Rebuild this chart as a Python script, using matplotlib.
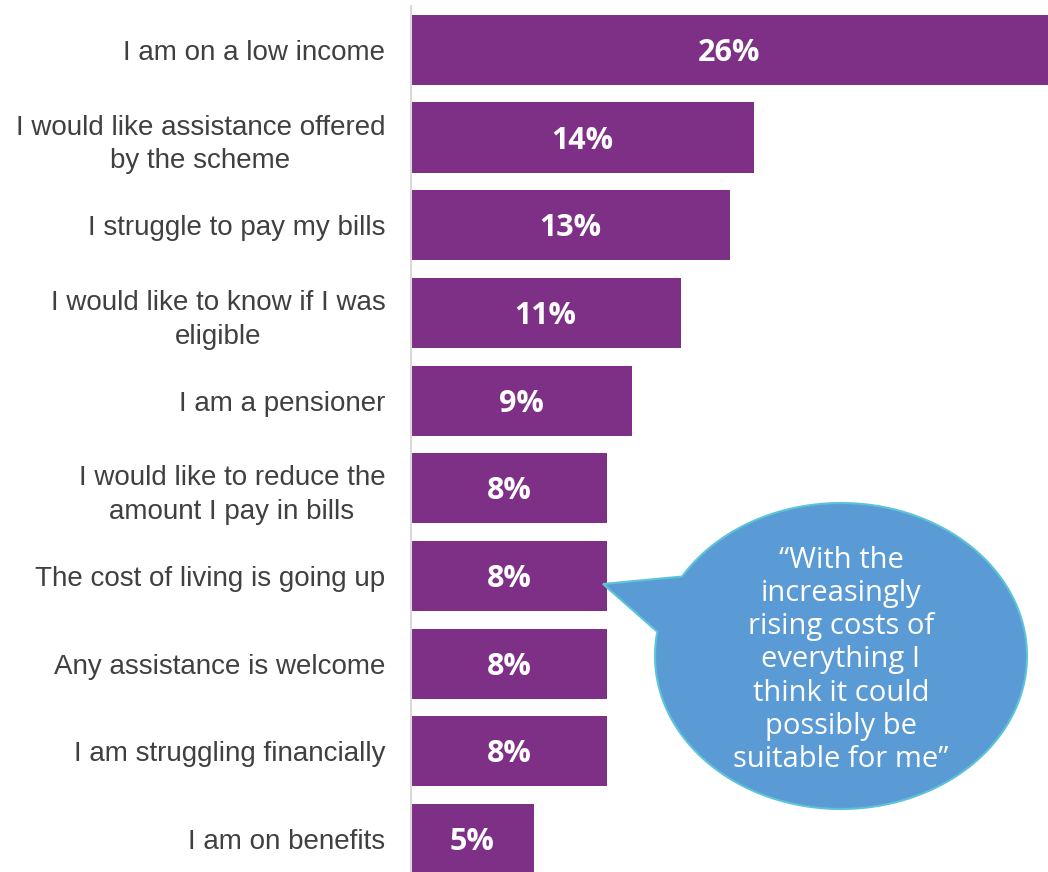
import matplotlib.pyplot as plt
import numpy as np
from matplotlib.path import Path
from matplotlib.patches import PathPatch

reasons = ["I am on a low income",
           "I would like assistance offered\nby the scheme",
           "I struggle to pay my bills",
           "I would like to know if I was\neligible",
           "I am a pensioner",
           "I would like to reduce the\namount I pay in bills",
           "The cost of living is going up",
           "Any assistance is welcome",
           "I am struggling financially",
           "I am on benefits"]
shares = [26, 14, 13, 11, 9, 8, 8, 8, 8, 5]
quote = "\u201cWith the\nincreasingly\nrising costs of\neverything I\nthink it could\npossibly be\nsuitable for me\u201d"

W, H = 1048, 872
fig = plt.figure(figsize=(W / 100, H / 100), dpi=100)
ax = fig.add_axes([411 / W, 0, 1 - 411 / W, 1 - 6 / H])

y = np.arange(len(reasons))
bars = ax.barh(y, shares, height=0.8, color="#7E3087")
for b, v in zip(bars, shares):
    ax.text(v / 2, b.get_y() + b.get_height() / 2 + 0.035, f"{v}%", ha="center", va="center",
            color="white", fontsize=22, fontweight="bold", family="Open Sans")

ax.set_xlim(0, 26)
ax.set_ylim(9.376, -0.5)
ax.set_yticks(y)
ax.set_yticklabels(reasons, fontsize=20, color="#404040", family="Liberation Sans",
                   multialignment="center", linespacing=1.38)
ax.tick_params(axis="y", length=0, pad=18.5)
ax.set_xticks([])
for s in ["top", "right", "bottom"]:
    ax.spines[s].set_visible(False)
ax.spines["left"].set_color("#D9D9D9")
ax.spines["left"].set_linewidth(1.5)

# speech bubble (pixel coords, y measured from the top)
cx, cy, a, b = 841, 656, 186, 153
t = np.radians(np.linspace(211.3, 549.1, 200))
px = cx + a * np.cos(t)
py = cy + b * np.sin(t)
px = np.append(px, [603, px[0]])
py = np.append(py, [584, py[0]])
verts = np.column_stack([px / W, 1 - py / H])
codes = [Path.MOVETO] + [Path.LINETO] * (len(verts) - 2) + [Path.CLOSEPOLY]
bubble = PathPatch(Path(verts, codes), facecolor="#5B9BD5", edgecolor="#5BC4D8",
                   linewidth=1.5, transform=fig.transFigure)
fig.patches.append(bubble)
fig.text(cx / W, 1 - 660 / H, quote, ha="center", va="center", color="white",
         fontsize=21, family="Open Sans", linespacing=1.19)

fig.savefig("out.png", dpi=100)
